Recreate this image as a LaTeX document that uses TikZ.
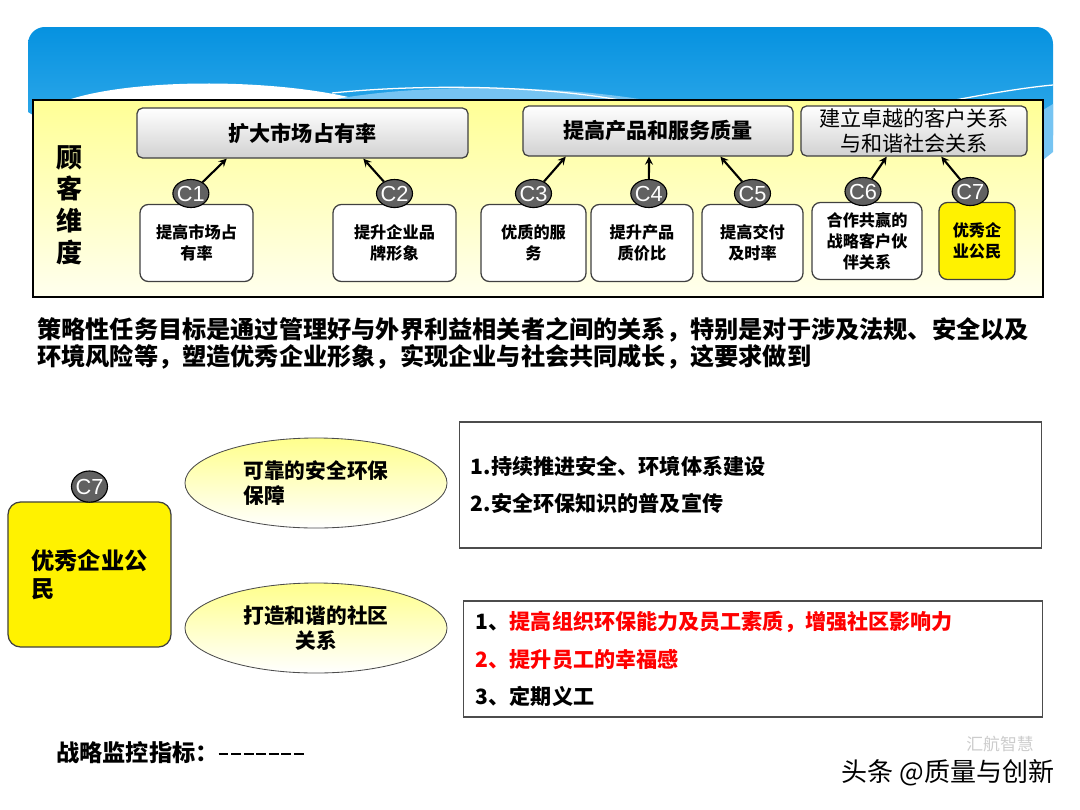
\documentclass[tikz,border=0pt]{standalone}
\usepackage{fontspec}
\setmainfont{Noto Sans CJK SC}
\newfontfamily\latinsans{Liberation Sans}
\usepackage{xcolor}
\usepackage{tikz}
\usetikzlibrary{shapes.geometric, arrows, positioning, calc}

\definecolor{skytop}{RGB}{6,146,224}
\definecolor{skybot}{RGB}{62,176,236}
\definecolor{skylight}{RGB}{118,196,242}
\definecolor{panelyellow}{RGB}{255,255,150}
\definecolor{paleyellow}{RGB}{255,255,238}
\definecolor{ovalyellow}{RGB}{255,255,140}

\newcommand\monidash{\rule[0.28em]{0.42em}{1.8pt}\kern0.12em}

\begin{document}
\begin{tikzpicture}[
    x=0.025cm, y=-0.025cm,
    goal/.style={rectangle, draw=black!75, line width=0.9pt, rounded corners=4pt, top color=white, bottom color=black!18, font=\fontsize{15}{17.8}\selectfont\bfseries, align=center, inner sep=0pt, minimum height=1.25cm},
    task/.style={rectangle, draw=black!75, line width=0.9pt, fill=white, rounded corners=6pt, font=\fontsize{11.5}{14.8}\selectfont\bfseries, align=center, inner sep=0pt, minimum height=1.925cm},
    cmark/.style={ellipse, draw=black, line width=0.8pt, fill=black!62, text=white, font=\latinsans\fontsize{15.5}{15.5}\selectfont, inner sep=-1.5pt, minimum width=0.9cm, minimum height=0.7cm},
    oval/.style={ellipse, draw=black!70, line width=0.6pt, top color=ovalyellow, bottom color=white, font=\fontsize{14.7}{17.8}\selectfont\bfseries, minimum width=6.55cm, minimum height=2.25cm, inner sep=0pt},
    listbox/.style={rectangle, draw=black!70, line width=0.8pt, fill=white, font=\fontsize{15}{26.4}\selectfont\bfseries, align=left, inner ysep=0pt},
    arrow/.style={line width=1.5pt,->,>=stealth}
]
\useasboundingbox (0,0) rectangle (1080,810);

% Banner
\shade[top color=skytop, bottom color=skybot, rounded corners=12pt] (28,112) -- (28,27) -- (1053,27) -- (1053,152) [sharp corners] -- (1043,160) -- (33,115) -- cycle;
\fill[white] (60,103) .. controls (120,78) and (280,76) .. (372,103) -- cycle;
\fill[skylight] (318,103) .. controls (400,83) and (560,83) .. (662,103) -- cycle;
\draw[white, line width=0.9pt] (332,93) .. controls (420,84) and (540,85) .. (625,101);
\draw[white, line width=0.9pt] (940,103) .. controls (990,93) and (1030,87) .. (1053,85);
\fill[skylight] (1043,110) -- (1053,104) -- (1053,152) -- (1043,160) -- cycle;

% Customer panel
\shadedraw[top color=panelyellow, bottom color=paleyellow, draw=black, line width=1.5pt] (33,100) rectangle (1043,297);
\node[font=\fontsize{18.5}{22.5}\selectfont\bfseries, align=center] (dim) at (70,205) {顾\\客\\维\\度};

% Goals
\node[goal, minimum width=8.275cm] (mkt) at (302.5,133) {扩大市场占有率};
\node[goal, minimum width=6.75cm] (quality) at (658,131) {提高产品和服务质量};
\node[goal, minimum width=5.65cm, font=\fontsize{15}{17.8}\selectfont] (relation) at (914,131) {建立卓越的客户关系\\与和谐社会关系};

% Tasks
\node[task, minimum width=2.825cm] (g1) at (196.5,243) {提高市场占\\有率};
\node[task, minimum width=3.075cm] (g2) at (394.5,243) {提升企业品\\牌形象};
\node[task, minimum width=2.625cm] (g3) at (533.5,243) {优质的服\\务};
\node[task, minimum width=2.55cm] (g4) at (642,243) {提升产品\\质价比};
\node[task, minimum width=2.525cm] (g5) at (752.5,243) {提高交付\\及时率};
\node[task, minimum width=2.75cm] (g6) at (867,241) {合作共赢的\\战略客户伙\\伴关系};
\node[task, minimum width=1.9cm, fill=yellow] (g7) at (977,241) {优秀企\\业公民};

% Markers
\node[cmark, above=-3pt of g1.north, xshift=-0.14cm] (c1) {C1};
\node[cmark, above=-3pt of g2.north] (c2) {C2};
\node[cmark, above=-3pt of g3.north] (c3) {C3};
\node[cmark, above=-3pt of g4.north, xshift=0.17cm] (c4) {C4};
\node[cmark, above=-3pt of g5.north] (c5) {C5};
\node[cmark, above=-3pt of g6.north, xshift=-0.1cm] (c6) {C6};
\node[cmark, above=-3pt of g7.north, xshift=-0.17cm] (c7) {C7};

% Arrows
\draw[arrow] (c1) -- ($(mkt.south west)!0.272!(mkt.south east)$);
\draw[arrow] (c2) -- ($(mkt.south west)!0.683!(mkt.south east)$);
\draw[arrow] (c3) -- ($(quality.south west)!0.16!(quality.south east)$);
\draw[arrow] (c4) -- ($(quality.south west)!0.467!(quality.south east)$);
\draw[arrow] (c5) -- ($(quality.south west)!0.73!(quality.south east)$);
\draw[arrow] (c6) -- ($(relation.south west)!0.38!(relation.south east)$);
\draw[arrow] (c7) -- ($(relation.south west)!0.62!(relation.south east)$);

% Statement
\node[anchor=west, align=left, inner sep=0pt, font=\fontsize{17.2}{19.2}\selectfont\bfseries] (aim) at (37,343.5)
    {策略性任务目标是通过管理好与外界利益相关者之间的关系，特别是对于涉及法规、安全以及\\环境风险等，塑造优秀企业形象，实现企业与社会共同成长，这要求做到};

% Citizen detail
\node[task, fill=yellow, rounded corners=9pt, minimum width=4.075cm, minimum height=3.625cm, align=left, font=\fontsize{16.5}{20}\selectfont\bfseries] (citizen) at (89.5,574.5) {优秀企业公\\民};
\node[cmark, minimum height=0.78cm, above=-1pt of citizen.north] (c7b) {C7};

\node[oval, align=left] (safety) at (316,483) {可靠的安全环保\\保障};
\node[oval, align=center] (community) at (316,628) {打造和谐的社区\\关系};

\node[listbox, minimum width=14.525cm, minimum height=3.15cm, inner xsep=0.275cm, text width=13.975cm] (safelist) at (750.5,485)
    {1.持续推进安全、环境体系建设\\2.安全环保知识的普及宣传};
\node[listbox, minimum width=14.45cm, minimum height=2.9cm, inner xsep=0.3cm, text width=13.85cm] (commlist) at (753,659)
    {1、\textcolor{red}{提高组织环保能力及员工素质，增强社区影响力}\\\textcolor{red}{2、提升员工的幸福感}\\3、定期义工};

% Footer
\node[anchor=west, inner sep=0pt, font=\fontsize{16.5}{19}\selectfont\bfseries] (monitor) at (56,753)
    {战略监控指标：\monidash\monidash\monidash\monidash\monidash\monidash\monidash};
\node[text=black!20, font=\fontsize{12}{14}\selectfont] (mark2) at (1000,744) {汇航智慧};
\node[font=\fontsize{18.5}{20}\selectfont] (mark1) at (948,773) {头条 @质量与创新};

\end{tikzpicture}
\end{document}
